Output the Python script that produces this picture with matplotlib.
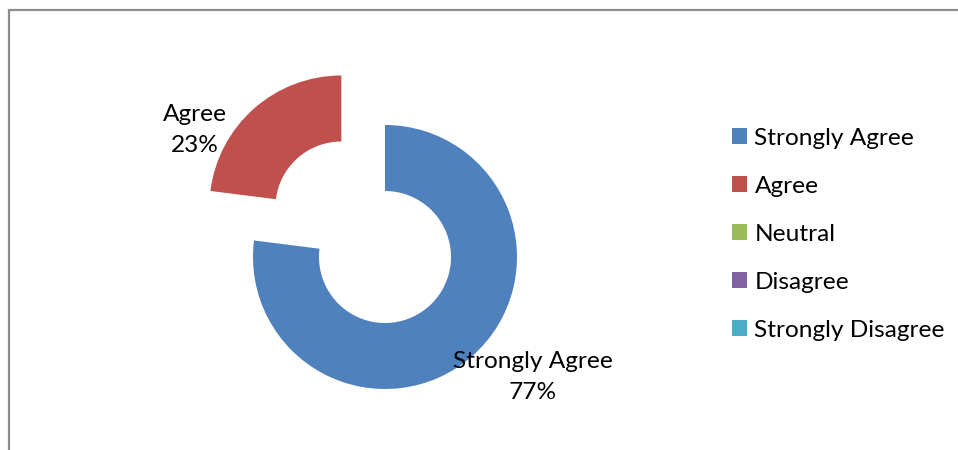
import matplotlib
matplotlib.use("Agg")
import matplotlib.pyplot as plt
from matplotlib.patches import Patch, Rectangle

# ---------- Data ----------
categories = ["Strongly Agree", "Agree", "Neutral", "Disagree", "Strongly Disagree"]
shares = [77, 23, 0, 0, 0]
colors = ["#4F81BD", "#C0504D", "#9BBB59", "#8064A2", "#4BACC6"]
explode_by = [0.0, 0.5, 0.0, 0.0, 0.0]

# ---------- Layout (pixels) ----------
W, H = 958, 450
cx, cy = 385, 257      # donut centre, image pixels from top-left
R = 132                # outer radius in pixels
plt.rcParams["font.family"] = ["Lato", "DejaVu Sans"]
fs = 17.6

fig = plt.figure(figsize=(W / 100, H / 100), dpi=100)
ax = fig.add_axes([0, 0, 1, 1])

# only non-zero slices get a wedge; all categories go to the legend
drawn = [i for i, v in enumerate(shares) if v > 0]
wedges, _ = ax.pie(
    [shares[i] for i in drawn],
    colors=[colors[i] for i in drawn],
    explode=[explode_by[i] for i in drawn],
    startangle=90, counterclock=False, radius=1.0,
    wedgeprops=dict(width=0.5, linewidth=0),
    frame=True,
)
ax.set_xlim(-cx / R, (W - cx) / R)
ax.set_ylim(-(H - cy) / R, cy / R)
ax.set_aspect("auto")
ax.axis("off")

# data labels
label_pos = {0: (1.12, -0.91), 1: (-1.44, 0.965)}
for i in drawn:
    x, y = label_pos[i]
    ax.text(x, y, f"{categories[i]}\n{shares[i]}%", ha="center", va="center",
            fontsize=fs, linespacing=1.6, color="black")

# legend
handles = [Patch(facecolor=c, edgecolor="none") for c in colors]
fig.legend(handles, categories, loc="upper left",
           bbox_to_anchor=(732 / W, 1 - 128 / H), frameon=False,
           fontsize=fs, handlelength=0.62, handleheight=0.62,
           handletextpad=0.3, labelspacing=1.1, borderpad=0,
           borderaxespad=0)

# chart border (partly cropped at right/bottom)
fig.add_artist(Rectangle((9 / W, -0.1), 1.1, 1 - 10 / H + 0.1,
                         transform=fig.transFigure, fill=False,
                         edgecolor="#8C8C8C", linewidth=1.6))

fig.savefig("out.png", dpi=100)
